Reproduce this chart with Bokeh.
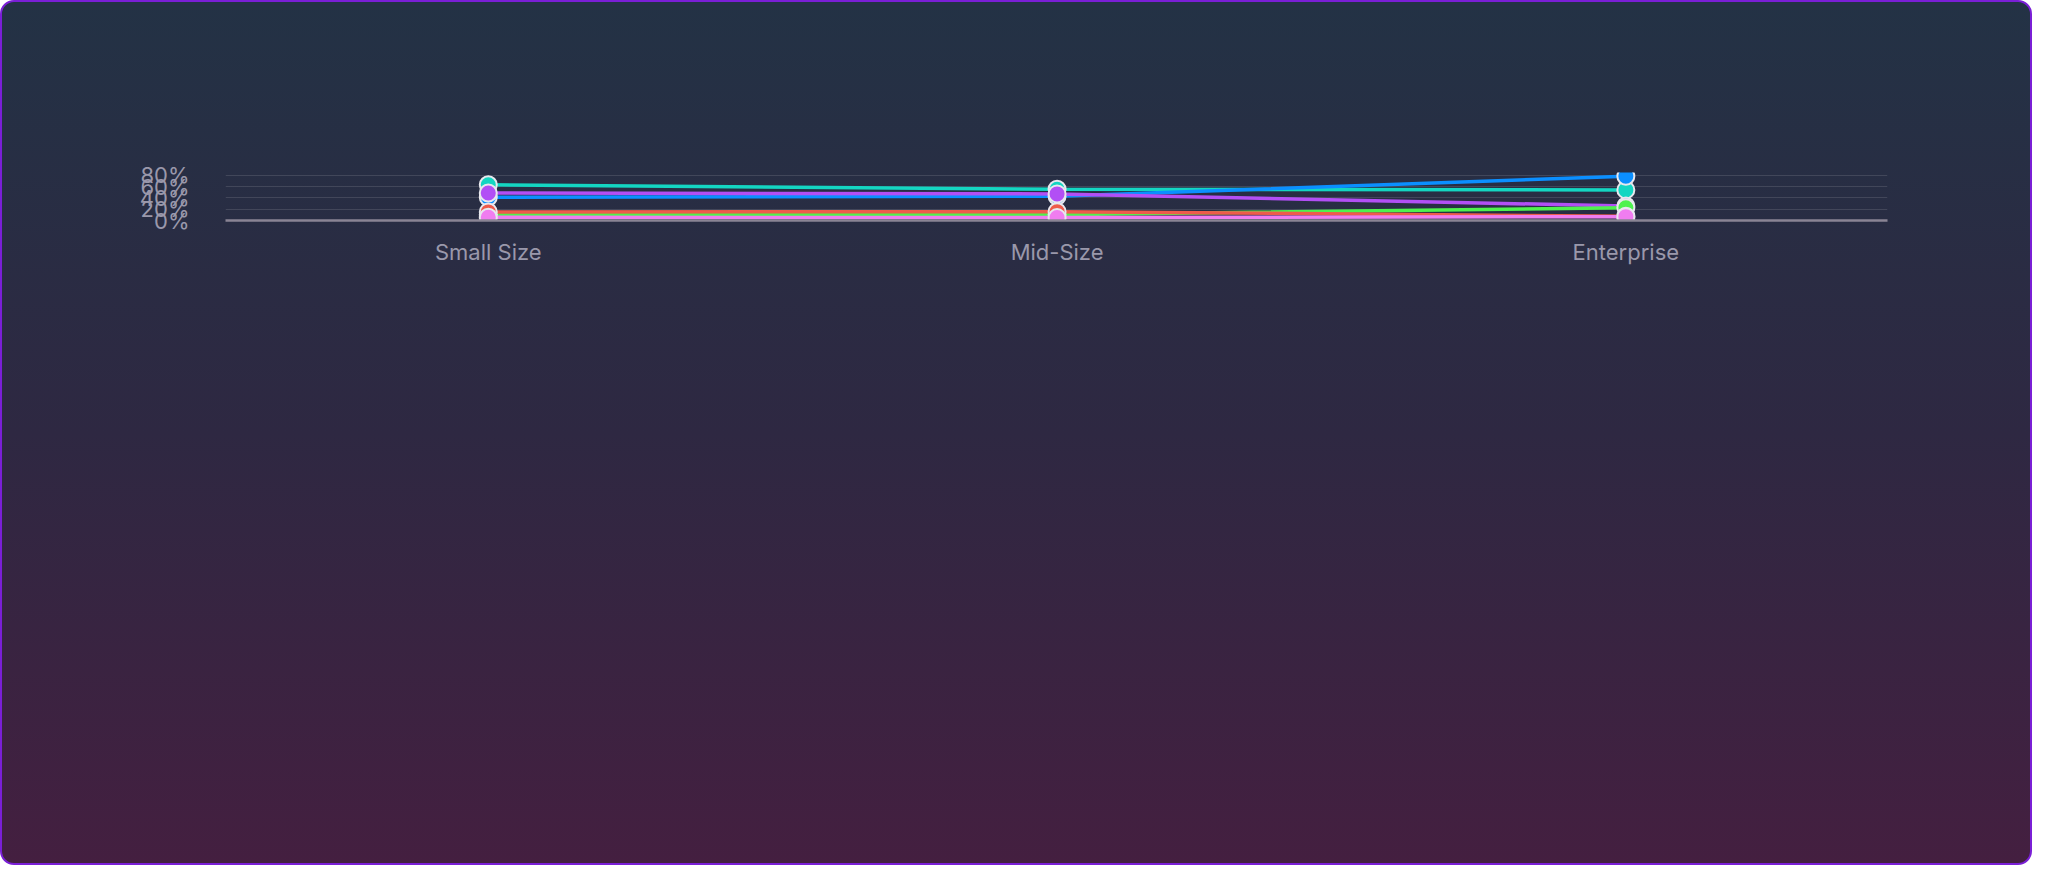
from bokeh.plotting import figure
from bokeh.models import Label, Legend, LegendItem, FixedTicker, PrintfTickFormatter, Range1d
from bokeh.embed import file_html
from bokeh.resources import INLINE

categories = ["Small Size", "Mid-Size", "Enterprise"]
series = ["Claude Code", "GitHub Copilot", "ChatGPT", "Gemini", "Codex", "Cursor"]
claude = [63.3, 55.2, 54.2]
copilot = [41.3, 43.0, 78.5]
chatgpt = [48.6, 47.1, 25.6]
gemini = [10.4, 10.4, 22.5]
codex = [15.2, 15.7, 7.6]
cursor = [5.8, 5.1, 6.8]
values = [claude, copilot, chatgpt, gemini, codex, cursor]
colors = ["#14d6c2", "#0b8fff", "#b24ff5", "#4ef24e", "#ee5b4b", "#f07df0"]
yticks = [0, 20, 40, 60, 80]

W, H = 2032, 865
p = figure(width=W, height=H, output_backend="svg", toolbar_location=None,
           x_range=Range1d(-0.462, 2.46), y_range=Range1d(0, 85),
           min_border_left=223, min_border_right=147, min_border_top=170, min_border_bottom=256)
p.styles = {"background": "linear-gradient(180deg, #233245 0%, #2e2842 50%, #441f40 100%)",
            "border": "2px solid #7a1fd6", "border-radius": "14px"}
p.background_fill_alpha = 0
p.border_fill_alpha = 0
p.outline_line_color = None

xs = list(range(len(categories)))
items = []
for name, vals, c in zip(series, values, colors):
    r = p.line(xs, vals, line_color=c, line_width=3.5)
    p.scatter(xs, vals, size=17, fill_color=c, line_color="#e8e8ee", line_width=2)
    items.append(LegendItem(label=name, renderers=[r]))

p.xaxis.ticker = FixedTicker(ticks=xs)
p.xaxis.major_label_overrides = {i: c for i, c in enumerate(categories)}
p.yaxis.ticker = FixedTicker(ticks=yticks)
p.yaxis.formatter = PrintfTickFormatter(format="%d%%")
for ax in (p.xaxis, p.yaxis):
    ax.major_tick_line_color = None
    ax.minor_tick_line_color = None
    ax.major_label_text_color = "#9a98ab"
    ax.major_label_text_font = "Inter"
    ax.major_label_text_font_size = "22px"
p.xaxis.axis_line_color = "#8a8494"
p.xaxis.axis_line_width = 2.5
p.yaxis.axis_line_color = None
p.xaxis.major_label_standoff = 12
p.yaxis.major_label_standoff = 30
p.xgrid.grid_line_color = None
p.ygrid.grid_line_color = "#ffffff"
p.ygrid.grid_line_alpha = 0.12

legend = Legend(items=items, orientation="horizontal", location=(193, 0),
                background_fill_alpha=0, border_line_color=None, padding=0, margin=50,
                spacing=38, glyph_width=32, label_standoff=14,
                label_text_color="#a9a7b8", label_text_font="Inter", label_text_font_size="20px")
p.add_layout(legend, "below")

p.add_layout(Label(x=-150, y=481, x_units="screen", y_units="screen",
                   text="Tool Penetration By Company Size", text_font="Inter",
                   text_font_size="47px", text_font_style="bold", text_color="#ffffff",
                   text_baseline="alphabetic"))
p.add_layout(Label(x=735, y=-176, x_units="screen", y_units="screen",
                   text="*NOTE: Multi-select question, most developers use more than one tool, so read tool figures as penetration, not exclusive share.",
                   text_font="Inter", text_font_size="19px", text_color="#9a98ab",
                   text_align="center", text_baseline="middle"))

open("out.html", "w").write(file_html(p, INLINE))
